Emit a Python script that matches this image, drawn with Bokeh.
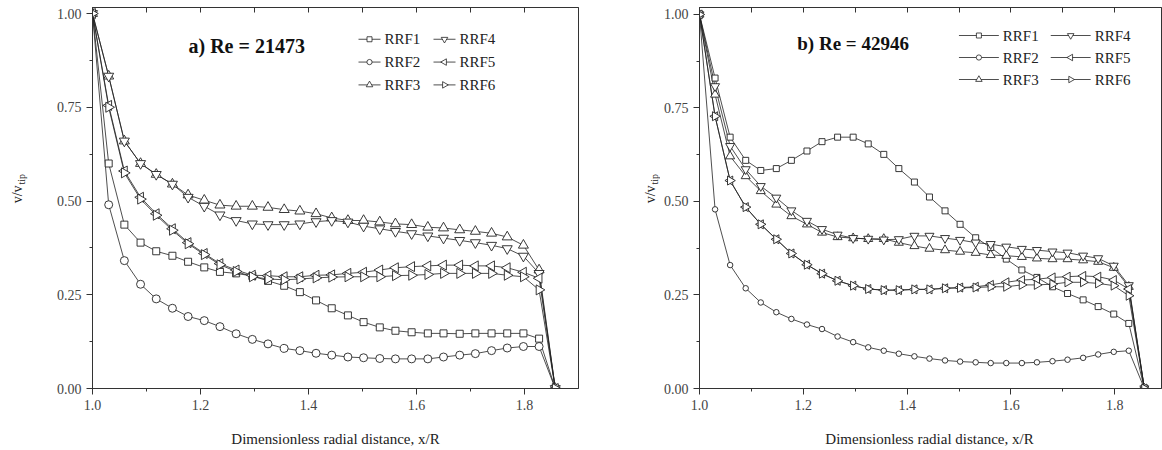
import math
from bokeh.plotting import figure
from bokeh.models import (Range1d, LinearAxis, SingleIntervalTicker, PrintfTickFormatter)
from bokeh.core.properties import value
from bokeh.layouts import row, column
from bokeh.embed import file_html
from bokeh.resources import INLINE

# ---------------- data ----------------
X_POS = [1.000, 1.030, 1.059, 1.089, 1.118, 1.148, 1.177, 1.207, 1.236, 1.266,
         1.296, 1.325, 1.355, 1.384, 1.414, 1.443, 1.473, 1.502, 1.532, 1.561,
         1.591, 1.621, 1.650, 1.680, 1.709, 1.739, 1.768, 1.798, 1.827, 1.857]

SERIES = ["RRF1", "RRF2", "RRF3", "RRF4", "RRF5", "RRF6"]

A_RRF1 = [1.0, 0.600, 0.437, 0.389, 0.366, 0.354, 0.338, 0.323, 0.311, 0.307, 0.300, 0.287,
          0.274, 0.257, 0.235, 0.214, 0.195, 0.177, 0.163, 0.154, 0.150, 0.147, 0.147, 0.146,
          0.147, 0.147, 0.147, 0.147, 0.133, 0.0]
A_RRF2 = [1.0, 0.490, 0.341, 0.278, 0.239, 0.214, 0.192, 0.181, 0.165, 0.146, 0.131, 0.119,
          0.107, 0.101, 0.094, 0.089, 0.084, 0.082, 0.080, 0.079, 0.079, 0.079, 0.084, 0.089,
          0.093, 0.101, 0.108, 0.112, 0.112, 0.0]
A_RRF3 = [1.0, 0.833, 0.660, 0.600, 0.571, 0.545, 0.516, 0.502, 0.489, 0.486, 0.486, 0.483,
          0.477, 0.473, 0.466, 0.455, 0.448, 0.448, 0.444, 0.439, 0.437, 0.430, 0.428, 0.423,
          0.419, 0.414, 0.404, 0.382, 0.316, 0.0]
A_RRF4 = [1.0, 0.833, 0.660, 0.600, 0.571, 0.545, 0.510, 0.486, 0.463, 0.448, 0.439, 0.437,
          0.437, 0.439, 0.445, 0.448, 0.444, 0.433, 0.426, 0.419, 0.413, 0.407, 0.401, 0.395,
          0.389, 0.382, 0.373, 0.353, 0.307, 0.0]
A_RRF5 = [1.0, 0.755, 0.580, 0.510, 0.466, 0.426, 0.389, 0.360, 0.333, 0.316, 0.302, 0.301,
          0.298, 0.298, 0.302, 0.303, 0.307, 0.310, 0.316, 0.322, 0.325, 0.327, 0.329, 0.329,
          0.327, 0.327, 0.322, 0.310, 0.294, 0.0]
A_RRF6 = [1.0, 0.750, 0.575, 0.505, 0.462, 0.422, 0.386, 0.357, 0.330, 0.312, 0.298, 0.292,
          0.290, 0.292, 0.295, 0.297, 0.298, 0.298, 0.298, 0.301, 0.302, 0.304, 0.307, 0.307,
          0.307, 0.307, 0.302, 0.298, 0.263, 0.0]

B_RRF1 = [1.0, 0.830, 0.672, 0.610, 0.583, 0.588, 0.610, 0.635, 0.660, 0.672, 0.672, 0.654,
          0.626, 0.588, 0.552, 0.512, 0.475, 0.439, 0.403, 0.377, 0.346, 0.317, 0.297, 0.272,
          0.254, 0.237, 0.219, 0.199, 0.174, 0.0]
B_RRF2 = [1.0, 0.479, 0.330, 0.268, 0.230, 0.204, 0.186, 0.171, 0.159, 0.139, 0.124, 0.110,
          0.101, 0.093, 0.086, 0.080, 0.075, 0.072, 0.070, 0.068, 0.068, 0.068, 0.070, 0.073,
          0.077, 0.082, 0.091, 0.098, 0.101, 0.0]
B_RRF3 = [1.0, 0.786, 0.621, 0.568, 0.528, 0.492, 0.461, 0.439, 0.417, 0.405, 0.402, 0.400,
          0.400, 0.390, 0.381, 0.374, 0.370, 0.366, 0.363, 0.357, 0.355, 0.352, 0.348, 0.346,
          0.346, 0.343, 0.339, 0.323, 0.272, 0.0]
B_RRF4 = [1.0, 0.808, 0.648, 0.586, 0.541, 0.510, 0.476, 0.448, 0.426, 0.411, 0.402, 0.400,
          0.398, 0.399, 0.408, 0.408, 0.402, 0.397, 0.390, 0.386, 0.379, 0.373, 0.370, 0.366,
          0.363, 0.355, 0.348, 0.328, 0.276, 0.0]
B_RRF5 = [1.0, 0.728, 0.556, 0.485, 0.439, 0.399, 0.361, 0.331, 0.307, 0.288, 0.275, 0.266,
          0.263, 0.263, 0.265, 0.265, 0.268, 0.270, 0.272, 0.277, 0.284, 0.290, 0.292, 0.297,
          0.299, 0.301, 0.299, 0.290, 0.266, 0.0]
B_RRF6 = [1.0, 0.728, 0.556, 0.485, 0.439, 0.399, 0.361, 0.331, 0.307, 0.288, 0.275, 0.266,
          0.263, 0.263, 0.265, 0.265, 0.268, 0.269, 0.270, 0.272, 0.272, 0.277, 0.277, 0.279,
          0.284, 0.284, 0.281, 0.275, 0.248, 0.0]

TITLE_A = "a) Re = 21473"
TITLE_B = "b) Re = 42946"
X_LABEL = "Dimensionless radial distance, x/R"
Y_LABEL_MAIN = "v/v"
Y_LABEL_SUB = "tip"

# ---------------- styling ----------------
FONT = "Liberation Serif"
INK = "#222222"
AXC = "#333333"
MARKERS = [("square", 0.0), ("circle", 0.0), ("triangle", 0.0),
           ("inverted_triangle", 0.0), ("triangle", math.pi / 2), ("triangle", -math.pi / 2)]
LEG_SIZE = [1.0, 1.05, 1.3, 1.3, 1.3, 1.3]

MAIN_H = 426      # height of the plotting row
STRIP_H = 24      # strip below carrying the x-axis titles


def bare_fig(width, height):
    f = figure(width=width, height=height, x_range=Range1d(0, width), y_range=Range1d(0, height),
               output_backend="svg", toolbar_location=None,
               x_axis_location=None, y_axis_location=None,
               min_border_left=0, min_border_right=0, min_border_top=0, min_border_bottom=0)
    f.outline_line_color = None
    f.xgrid.visible = False
    f.ygrid.visible = False
    return f


def ylabel_fig(width, cx):
    """Narrow strip that carries the rotated y-axis title v/v_tip."""
    f = bare_fig(width, MAIN_H)
    anchor = MAIN_H - 199
    f.text(x=[cx], y=[anchor], text=[Y_LABEL_MAIN], angle=math.pi / 2, text_align="right",
           text_baseline="middle", text_font=value(FONT), text_font_size="14px",
           text_color=INK)
    f.text(x=[cx + 4], y=[anchor + 1], text=[Y_LABEL_SUB], angle=math.pi / 2, text_align="left",
           text_baseline="middle", text_font=value(FONT), text_font_size="10px",
           text_color=INK)
    return f


def xlabel_strip(centers):
    f = bare_fig(1162, STRIP_H)
    for cx in centers:
        f.text(x=[cx], y=[STRIP_H - 12], text=[X_LABEL], text_align="center",
               text_baseline="middle", text_font=value(FONT), text_font_size="15px",
               text_color=INK)
    return f


def make_panel(ys, title, width, mb_left, mb_right, frame_left_px, frame_w, frame_h,
               x_end, y_end, sizes, title_px, title_size, legend_spec):
    p = figure(width=width, height=MAIN_H, x_range=Range1d(1.0, x_end),
               y_range=Range1d(0.0, y_end),
               output_backend="svg", toolbar_location=None,
               min_border_left=mb_left, min_border_right=mb_right,
               min_border_top=7, min_border_bottom=MAIN_H - 7 - frame_h,
               background_fill_color="white", border_fill_color="white")
    p.xgrid.visible = False
    p.ygrid.visible = False
    p.outline_line_color = AXC
    p.outline_line_width = 1

    p.xaxis.ticker = SingleIntervalTicker(interval=0.2, num_minor_ticks=2)
    p.xaxis.formatter = PrintfTickFormatter(format="%.1f")
    p.yaxis.ticker = SingleIntervalTicker(interval=0.25, num_minor_ticks=2)
    p.yaxis.formatter = PrintfTickFormatter(format="%.2f")
    for ax in (p.xaxis[0], p.yaxis[0]):
        ax.axis_line_color = AXC
        ax.major_tick_line_color = AXC
        ax.minor_tick_line_color = AXC
        ax.major_tick_out = 6
        ax.major_tick_in = 0
        ax.minor_tick_out = 3
        ax.minor_tick_in = 0
        ax.major_label_text_font = FONT
        ax.major_label_text_font_size = "14px"
        ax.major_label_text_color = "#444444"
    p.yaxis.major_label_standoff = 5
    p.xaxis.major_label_standoff = 5

    top = LinearAxis(ticker=SingleIntervalTicker(interval=0.1, num_minor_ticks=0),
                     major_tick_in=5, major_tick_out=0, minor_tick_in=0, minor_tick_out=0,
                     major_label_text_font_size="1px", major_label_standoff=0,
                     major_label_text_color=None, major_label_text_alpha=0,
                     axis_line_color=AXC, major_tick_line_color=AXC)
    p.add_layout(top, "above")

    ppx = frame_w / (x_end - 1.0)
    ppy = frame_h / y_end

    def dx(px):
        return 1.0 + (px - frame_left_px) / ppx

    def dy(py):
        return y_end - (py - 7) / ppy

    for y in ys:
        p.line(X_POS, y, line_color=INK, line_width=0.8)
    for y, (m, ang), s in zip(ys, MARKERS, sizes):
        p.scatter(X_POS, y, marker=m, angle=ang, size=s, fill_color="white",
                  line_color=INK, line_width=0.9)

    p.text(x=[dx(title_px[0])], y=[dy(title_px[1])], text=[title], text_font=value(FONT),
           text_font_style="bold", text_font_size=title_size, text_color="#111111",
           text_baseline="alphabetic", text_align="left")

    # legend: two columns of three entries, "—marker— label"
    col_x, glyph_w, rows_y, gap, font_size, msize = legend_spec
    for i, name in enumerate(SERIES):
        c, r = divmod(i, 3)
        x0 = col_x[c]
        yy = dy(rows_y[r])
        p.line([dx(x0), dx(x0 + glyph_w)], [yy, yy], line_color=INK, line_width=0.8)
        m, ang = MARKERS[i]
        p.scatter([dx(x0 + glyph_w / 2)], [yy], marker=m, angle=ang, size=msize * LEG_SIZE[i],
                  fill_color="white", line_color=INK, line_width=0.8)
        p.text(x=[dx(x0 + glyph_w + gap)], y=[yy], text=[name], text_font=value(FONT),
               text_font_size=font_size, text_color=INK, text_baseline="middle",
               text_align="left")
    return p


ya = ylabel_fig(30, 17)
pa = make_panel([A_RRF1, A_RRF2, A_RRF3, A_RRF4, A_RRF5, A_RRF6], TITLE_A,
                width=590, mb_left=62, mb_right=42, frame_left_px=92, frame_w=486, frame_h=384,
                x_end=1.9, y_end=1.016, sizes=[7, 8, 10, 10, 10, 10],
                title_px=(188, 46), title_size="20px",
                legend_spec=([358, 433], 22, [39, 62, 85], 4, "15px", 5))

yb = ylabel_fig(40, 30)
pb = make_panel([B_RRF1, B_RRF2, B_RRF3, B_RRF4, B_RRF5, B_RRF6], TITLE_B,
                width=502, mb_left=38, mb_right=1, frame_left_px=698, frame_w=463, frame_h=381,
                x_end=1.890, y_end=1.0187, sizes=[6, 5.5, 9, 9, 9, 9],
                title_px=(796, 43), title_size="19px",
                legend_spec=([958, 1050], 40, [35, 57, 79], 4, "15px", 5))

strip = xlabel_strip([335, 929])

layout = column(row(ya, pa, yb, pb), strip)
open("out.html", "w").write(file_html(layout, INLINE))
